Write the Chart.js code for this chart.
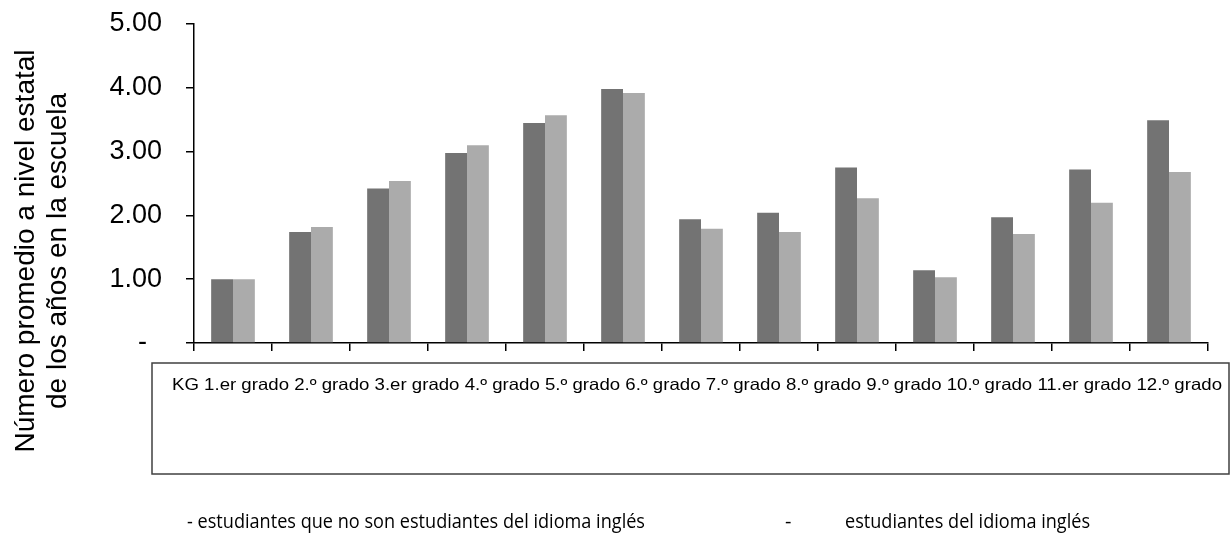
<!DOCTYPE html>
<html lang="es">
<head>
    <meta charset="UTF-8">
    <title>Años en la escuela</title>
    <script src="https://cdn.jsdelivr.net/npm/chart.js"></script>
    <style>
        body {
            margin: 0;
            padding: 0;
            background-color: #ffffff;
        }
        .chart-container {
            width: 1230px;
            height: 535px;
        }
    </style>
</head>
<body>
    <div class="chart-container">
        <canvas id="gradeChart"></canvas>
    </div>
    <script>
        const grades = ['KG', '1.er grado', '2.º grado', '3.er grado', '4.º grado', '5.º grado', '6.º grado',
                        '7.º grado', '8.º grado', '9.º grado', '10.º grado', '11.er grado', '12.º grado'];
        const nonElValues = [1.00, 1.74, 2.42, 2.98, 3.45, 3.98, 1.94, 2.04, 2.75, 1.14, 1.97, 2.72, 3.49];
        const elValues = [1.00, 1.82, 2.54, 3.10, 3.57, 3.92, 1.79, 1.74, 2.27, 1.03, 1.71, 2.20, 2.68];
        const seriesNames = ['estudiantes que no son estudiantes del idioma inglés', 'estudiantes del idioma inglés'];
        const yTitle = ['Número promedio a nivel estatal', 'de los años en la escuela'];

        // draw text squeezed/stretched horizontally to a given width
        function fitText(ctx, text, x, y, width) {
            const w = ctx.measureText(text).width;
            ctx.save();
            ctx.translate(x, y);
            ctx.scale(width / w, 1);
            ctx.fillText(text, 0, 0);
            ctx.restore();
        }

        // y title (sits lower than chart.js would centre it), label box, text legend
        const extrasPlugin = {
            id: 'extrasPlugin',
            afterDraw(chart) {
                const ctx = chart.ctx;
                ctx.save();
                ctx.fillStyle = '#000';
                ctx.textBaseline = 'middle';

                ctx.save();
                ctx.translate(0, 251);
                ctx.rotate(-Math.PI / 2);
                ctx.textAlign = 'center';
                ctx.font = '28px "Liberation Sans", Arial, sans-serif';
                ctx.fillText(yTitle[0], 0, 26);
                ctx.fillText(yTitle[1], 0, 58);
                ctx.restore();

                ctx.strokeStyle = '#404040';
                ctx.lineWidth = 1.5;
                ctx.strokeRect(152, 363, 1077, 111);
                ctx.textAlign = 'left';
                ctx.font = '16.5px "Liberation Sans", Arial, sans-serif';
                fitText(ctx, grades.join(' '), 172, 385, 1050);

                ctx.font = '20px "Open Sans", sans-serif';
                fitText(ctx, '- ' + seriesNames[0], 187, 522, 458);
                ctx.fillText('-', 785, 522);
                fitText(ctx, seriesNames[1], 845, 522, 245);
                ctx.restore();
            }
        };

        new Chart(document.getElementById('gradeChart'), {
            type: 'bar',
            data: {
                labels: grades,
                datasets: [{
                    label: seriesNames[0],
                    data: nonElValues,
                    backgroundColor: '#737373',
                    borderWidth: 0
                }, {
                    label: seriesNames[1],
                    data: elValues,
                    backgroundColor: '#ababab',
                    borderWidth: 0
                }]
            },
            options: {
                responsive: true,
                maintainAspectRatio: false,
                animation: false,
                layout: {
                    padding: { left: 0, right: 22, top: 24, bottom: 0 }
                },
                plugins: {
                    legend: { display: false },
                    tooltip: { enabled: false }
                },
                datasets: {
                    bar: {
                        categoryPercentage: 0.56,
                        barPercentage: 1.0
                    }
                },
                scales: {
                    x: {
                        afterFit(scale) { scale.height = 192; },
                        grid: {
                            display: true,
                            drawOnChartArea: false,
                            drawTicks: true,
                            tickLength: 8,
                            color: '#000',
                            lineWidth: 1.5
                        },
                        border: { color: '#000', width: 1.5 },
                        ticks: { display: false }
                    },
                    y: {
                        min: 0,
                        max: 5,
                        afterFit(scale) {
                            scale.width = 194;
                            scale.paddingTop = 0;
                            scale.paddingBottom = 0;
                        },
                        ticks: {
                            stepSize: 1,
                            color: '#000',
                            padding: 24,
                            font: { family: '"Liberation Sans", Arial, sans-serif', size: 27 },
                            callback: v => v === 0 ? '-  ' : v.toFixed(2)
                        },
                        grid: {
                            display: true,
                            drawOnChartArea: false,
                            drawTicks: true,
                            tickLength: 8,
                            color: '#000',
                            lineWidth: 1.5
                        },
                        border: { color: '#000', width: 1.5 },
                        title: { display: false }
                    }
                }
            },
            plugins: [extrasPlugin]
        });
    </script>
</body>
</html>
